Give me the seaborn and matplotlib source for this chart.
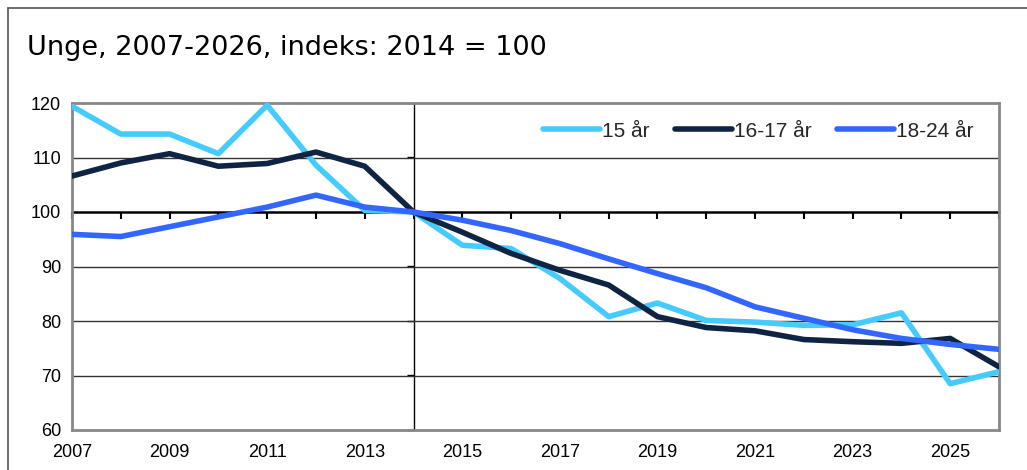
import pandas as pd
import seaborn as sns
import matplotlib.pyplot as plt
from matplotlib.lines import Line2D

years = list(range(2007, 2027))
age_15 = [119.4, 114.3, 114.3, 110.7, 119.6, 108.6, 100.3, 100.0, 93.9, 93.3,
          87.8, 80.8, 83.3, 80.1, 79.8, 79.2, 79.3, 81.5, 68.5, 70.7]
age_16_17 = [106.6, 109.0, 110.7, 108.4, 108.9, 111.0, 108.4, 100.0, 96.3, 92.4,
             89.3, 86.6, 80.8, 78.8, 78.2, 76.6, 76.2, 75.9, 76.8, 71.6]
age_18_24 = [95.9, 95.5, 97.3, 99.1, 100.9, 103.1, 100.9, 100.0, 98.5, 96.6,
             94.2, 91.4, 88.7, 86.1, 82.6, 80.5, 78.4, 76.8, 75.7, 74.8]
series_names = ['15 år', '16-17 år', '18-24 år']
colors = ['#45CBFF', '#0F2442', '#3366FF']

# long format for seaborn
df = pd.DataFrame({
    'year': years * 3,
    'value': age_15 + age_16_17 + age_18_24,
    'group': [series_names[0]] * len(years) + [series_names[1]] * len(years) + [series_names[2]] * len(years),
})

sns.set_style('white')
plt.rcParams['font.family'] = ['Liberation Sans', 'DejaVu Sans']

fig = plt.figure(figsize=(10.27, 4.70), dpi=100)
ax = fig.add_axes([72 / 1027, 1 - 430 / 470, 927 / 1027, 327 / 470])

# grid lines
for y in [70, 80, 90, 110]:
    ax.axhline(y, color='#333333', lw=1, zorder=1)

sns.lineplot(data=df, x='year', y='value', hue='group', palette=colors,
             linewidth=4, ax=ax, zorder=3)

ax.set_xlim(2007, 2026)
ax.set_ylim(60, 120)
ax.set_xticks(years[::2])
ax.set_yticks(range(60, 121, 10))
ax.tick_params(axis='both', length=0, labelsize=13, colors='black')
ax.tick_params(axis='x', pad=10)
ax.tick_params(axis='y', pad=8)
ax.set_xlabel('')
ax.set_ylabel('')
for s in ax.spines.values():
    s.set_color('#888888')
    s.set_linewidth(2)

# axis line through 100 with year ticks
sec_x = ax.secondary_xaxis(2 / 3)
sec_x.set_xticks(years)
sec_x.tick_params(axis='x', bottom=True, top=False, labelbottom=False, labeltop=False,
                  direction='out', length=5, width=1.5, color='black')
for s in sec_x.spines.values():
    s.set_color('black')
    s.set_linewidth(1.8)

# axis line through 2014
sec_y = ax.secondary_yaxis(7 / 19)
sec_y.set_yticks(range(60, 121, 10))
sec_y.tick_params(axis='y', left=True, right=False, labelleft=False, labelright=False,
                  direction='out', length=5, width=1, color='black')
for s in sec_y.spines.values():
    s.set_color('black')
    s.set_linewidth(1)

leg = ax.legend(loc='upper right', ncol=3, frameon=False, fontsize=15,
                handlelength=2.75, handletextpad=0.1, columnspacing=1.2,
                bbox_to_anchor=(0.993, 1.0))
for h in leg.get_lines():
    h.set_linewidth(4)
    h.set_solid_capstyle('round')

fig.text(27 / 1027, 1 - 48 / 470, 'Unge, 2007-2026, indeks: 2014 = 100',
         fontsize=19.5, family='DejaVu Sans', color='black', va='center', ha='left')

# outer frame
fig.add_artist(Line2D([8 / 1027, 1], [1 - 8 / 470, 1 - 8 / 470], color='#555555', lw=1.2))
fig.add_artist(Line2D([8 / 1027, 8 / 1027], [0, 1 - 8 / 470], color='#555555', lw=1.2))

fig.savefig('out.png', dpi=100)
